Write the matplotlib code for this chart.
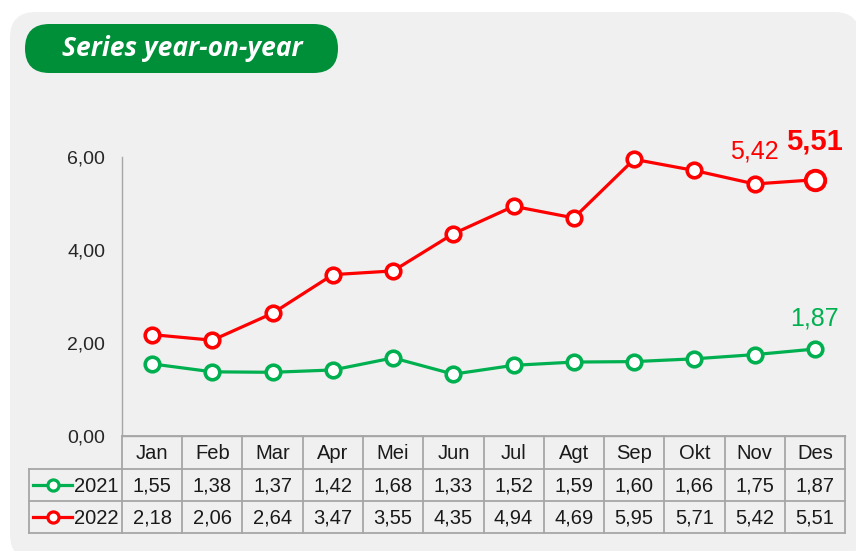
import matplotlib
matplotlib.use("Agg")
import matplotlib.pyplot as plt
from matplotlib.patches import FancyBboxPatch
from matplotlib.lines import Line2D
from matplotlib import font_manager as fm

months = ["Jan", "Feb", "Mar", "Apr", "Mei", "Jun", "Jul", "Agt", "Sep", "Okt", "Nov", "Des"]
series_names = ["2021", "2022"]
values_2021 = [1.55, 1.38, 1.37, 1.42, 1.68, 1.33, 1.52, 1.59, 1.60, 1.66, 1.75, 1.87]
values_2022 = [2.18, 2.06, 2.64, 3.47, 3.55, 4.35, 4.94, 4.69, 5.95, 5.71, 5.42, 5.51]
yticks = [0, 2, 4, 6]
title = "Series year-on-year"

GREEN = "#00b050"
RED = "#ff0000"
PILL = "#008f39"
BG = "#f0f0f0"
GRID = "#a6a6a6"

avail = {f.name for f in fm.fontManager.ttflist}
narrow = "Liberation Sans Narrow" if "Liberation Sans Narrow" in avail else "Liberation Sans"
FONT = [narrow, "DejaVu Sans"]
TFONT = ["Open Sans", "DejaVu Sans"]

W, H = 856, 551
fig = plt.figure(figsize=(W / 100, H / 100), dpi=100)
fig.patch.set_facecolor("white")

def fx(px):
    return px / W

def fy(py):
    return 1 - py / H

# background panel
bg = FancyBboxPatch((fx(10), fy(560)), fx(860) - fx(10), fy(12) - fy(560),
                    boxstyle="round,pad=0,rounding_size=0.03",
                    transform=fig.transFigure, facecolor=BG, edgecolor="none",
                    mutation_aspect=W / H, zorder=-2)
fig.patches.append(bg)

# title pill
pill = FancyBboxPatch((fx(25), fy(73)), fx(338) - fx(25), fy(24) - fy(73),
                      boxstyle="round,pad=0,rounding_size=0.0286",
                      transform=fig.transFigure, facecolor=PILL, edgecolor="none",
                      mutation_aspect=W / H, zorder=-1)
fig.patches.append(pill)
fig.text(fx(182), fy(49), title, color="white", fontsize=19, fontweight="bold",
         fontstyle="italic", family=TFONT, ha="center", va="center", zorder=2)

# axes
left, right, bottom, top = 122, 845, 436, 157
ax = fig.add_axes([fx(left), fy(bottom), fx(right) - fx(left), fy(top) - fy(bottom)])
ax.set_zorder(1)
ax.set_facecolor("none")
ax.set_xlim(-0.5, len(months) - 0.5)
ax.set_ylim(0, 6)
for s in ["top", "right"]:
    ax.spines[s].set_visible(False)
ax.spines["left"].set_color(GRID)
ax.spines["bottom"].set_color(GRID)
ax.spines["left"].set_linewidth(1.0)
ax.spines["bottom"].set_linewidth(1.0)
ax.set_xticks([])
ax.set_yticks(yticks)
ax.set_yticklabels([f"{v:.2f}".replace(".", ",") for v in yticks], family=FONT, fontsize=14, color="#262626")
ax.tick_params(axis="y", length=0, pad=12)

x = list(range(len(months)))
ms, mew, lw = 10.5, 2.6, 2.3
ax.plot(x, values_2021, color=GREEN, lw=lw, marker="o", ms=ms, mfc="white", mec=GREEN, mew=mew, clip_on=False, zorder=3)
ax.plot(x, values_2022, color=RED, lw=lw, marker="o", ms=ms, mfc="white", mec=RED, mew=mew, clip_on=False, zorder=3)
ax.plot([x[-1]], [values_2022[-1]], marker="o", ms=14, mfc="white", mec=RED, mew=2.8, ls="none", clip_on=False, zorder=4)

def fmt(v):
    return f"{v:.2f}".replace(".", ",")

ax.annotate(fmt(values_2022[-2]), (x[-2], values_2022[-2]), xytext=(0, 32), textcoords="offset pixels",
            ha="center", va="center", color=RED, fontsize=18, family=FONT)
ax.annotate(fmt(values_2022[-1]), (x[-1], values_2022[-1]), xytext=(0, 38), textcoords="offset pixels",
            ha="center", va="center", color=RED, fontsize=21, fontweight="bold", family=FONT)
ax.annotate(fmt(values_2021[-1]), (x[-1], values_2021[-1]), xytext=(0, 31), textcoords="offset pixels",
            ha="center", va="center", color=GREEN, fontsize=18, family=FONT)

# table (pixel rows)
rows_y = [436, 469, 501, 533]
leg_left = 29
trans = fig.transFigure
def hline(x0, x1, y):
    fig.add_artist(Line2D([fx(x0), fx(x1)], [fy(y), fy(y)], transform=trans, color=GRID, lw=1.3, zorder=2))
def vline(xp, y0, y1):
    fig.add_artist(Line2D([fx(xp), fx(xp)], [fy(y0), fy(y1)], transform=trans, color=GRID, lw=1.3, zorder=2))

colw = (right - left) / len(months)
hline(left, right, rows_y[0])
for y in rows_y[1:]:
    hline(leg_left, right, y)
for i in range(len(months) + 1):
    vline(left + i * colw, rows_y[0], rows_y[-1])
vline(leg_left, rows_y[1], rows_y[-1])

TXT = "#1a1a1a"
for i, m in enumerate(months):
    cx = left + (i + 0.5) * colw
    fig.text(fx(cx), fy((rows_y[0] + rows_y[1]) / 2 + 1), m, ha="center", va="center", fontsize=14.5, family=FONT, color=TXT)
    fig.text(fx(cx), fy((rows_y[1] + rows_y[2]) / 2 + 1), fmt(values_2021[i]), ha="center", va="center", fontsize=14.5, family=FONT, color=TXT)
    fig.text(fx(cx), fy((rows_y[2] + rows_y[3]) / 2 + 1), fmt(values_2022[i]), ha="center", va="center", fontsize=14.5, family=FONT, color=TXT)

for r, (name, col) in enumerate(zip(series_names, [GREEN, RED])):
    yc = (rows_y[r + 1] + rows_y[r + 2]) / 2
    fig.add_artist(Line2D([fx(33), fx(72)], [fy(yc), fy(yc)], transform=trans, color=col, lw=2.3, zorder=3))
    fig.add_artist(Line2D([fx(52.5)], [fy(yc)], transform=trans, color=col, marker="o", ms=8, mfc="white", mec=col, mew=2.3, zorder=4))
    fig.text(fx(74), fy(yc + 1), name, ha="left", va="center", fontsize=14.5, family=FONT, color=TXT)

fig.savefig("out.png", dpi=100, facecolor="white")
